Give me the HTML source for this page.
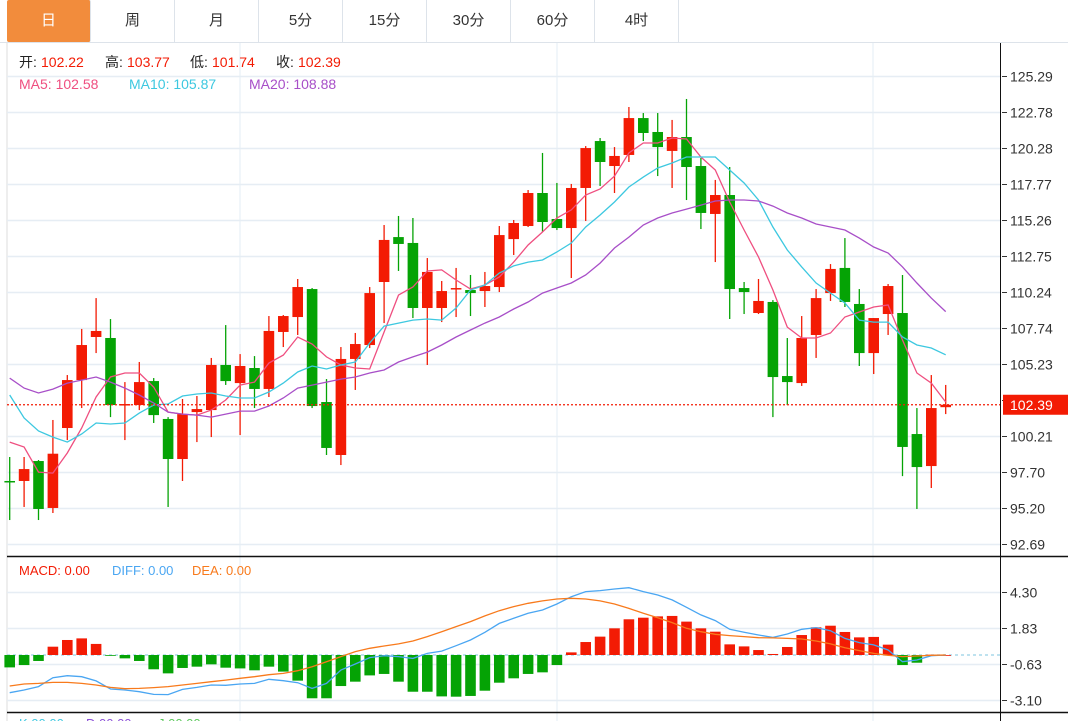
<!DOCTYPE html>
<html><head><meta charset="utf-8">
<style>
html,body{margin:0;padding:0;background:#fff;width:1068px;height:721px;overflow:hidden;font-family:"Liberation Sans","Noto Sans CJK SC",sans-serif}
#tabs{position:absolute;left:0;top:0;width:1068px;height:42px;border-bottom:1px solid #dde3ea}
.tab{position:absolute;top:0;height:42px;width:83px;border-right:1px solid #dde3ea;text-align:center;line-height:42px;font-size:15px;color:#333}
.tab.on{background:#f28c3c;color:#fff;border-radius:2px}
svg{position:absolute;left:0;top:0}
</style></head><body>
<div id="tabs">
<div class="tab on" style="left:7px">日</div>
<div class="tab" style="left:91px">周</div>
<div class="tab" style="left:175px">月</div>
<div class="tab" style="left:259px">5分</div>
<div class="tab" style="left:343px">15分</div>
<div class="tab" style="left:427px">30分</div>
<div class="tab" style="left:511px">60分</div>
<div class="tab" style="left:595px">4时</div>
</div>
<svg id="chart" width="1068" height="721"></svg>
<script>
const opens=[97.08,97.08,98.47,95.20,100.77,104.11,107.11,107.04,102.37,102.37,104.04,101.40,98.61,101.88,102.02,105.16,103.90,104.95,103.49,107.46,108.50,110.45,102.58,98.89,105.58,106.55,110.94,114.07,113.66,109.13,109.13,110.45,110.38,110.31,110.59,113.93,114.84,117.14,115.33,114.70,117.49,120.76,119.02,119.79,122.36,121.39,120.07,121.04,119.02,115.68,117.00,110.52,108.78,109.55,104.39,103.90,107.25,110.17,111.92,109.41,105.99,108.71,108.78,100.35,98.12,102.22];
const closes=[97.01,97.91,95.13,98.98,104.11,106.55,107.53,102.37,102.44,103.97,101.67,98.61,101.74,102.09,105.16,104.04,105.09,103.49,107.53,108.57,110.59,102.30,99.38,105.58,106.62,110.17,113.87,113.59,109.13,111.64,110.31,110.52,110.17,110.66,114.21,115.05,117.14,115.12,114.70,117.49,120.27,119.30,119.72,122.36,121.32,120.34,121.04,118.95,115.75,117.00,110.45,110.24,109.62,104.32,103.97,107.04,109.82,111.85,109.55,105.99,108.43,110.66,99.45,98.05,102.16,102.39];
const highs=[98.75,98.75,98.54,101.33,104.46,107.67,109.82,108.36,103.97,105.37,104.25,101.53,102.79,103.00,105.65,107.94,105.92,105.78,108.57,108.64,111.15,110.52,104.18,106.41,107.39,110.59,114.91,115.54,115.40,112.61,111.01,111.92,111.43,111.64,114.84,115.26,117.35,119.93,117.84,117.77,120.41,120.97,120.34,123.13,122.71,122.71,122.23,123.69,119.58,118.05,118.95,110.94,111.15,109.68,107.04,108.57,110.45,112.19,114.00,110.45,108.43,110.80,111.43,102.16,104.46,103.77];
const lows=[94.36,95.27,94.36,94.85,99.93,102.16,105.99,101.53,99.93,102.02,101.12,95.27,97.08,99.79,100.14,103.77,100.28,102.16,102.93,106.41,107.25,102.16,98.89,98.19,103.42,106.34,108.08,111.71,108.43,105.16,108.15,108.50,108.57,109.20,110.24,112.82,114.77,114.42,114.56,111.22,115.19,117.63,117.14,119.30,120.76,118.32,117.49,116.65,114.63,112.33,108.36,108.71,108.71,101.53,102.37,103.70,105.65,109.62,109.20,105.09,104.53,107.25,97.42,95.13,96.59,101.74];
const ma5=[99.79,99.45,97.70,97.63,99.03,100.77,102.93,104.32,104.60,104.60,103.62,101.88,101.74,101.67,102.02,102.72,103.76,103.97,105.30,105.85,107.11,106.62,105.72,105.16,104.95,104.88,107.46,110.03,110.59,111.71,111.78,111.08,110.45,110.73,111.29,112.33,113.52,114.42,115.40,115.96,117.00,117.42,118.32,119.93,120.62,120.62,120.97,120.90,119.65,118.74,116.51,114.56,112.68,110.38,107.80,107.04,107.04,107.39,108.50,108.85,109.20,109.34,106.90,104.60,103.90,102.58];
const ma10=[103.07,101.47,100.56,100.14,99.79,100.35,101.12,101.05,101.12,101.81,102.37,102.44,103.00,103.14,103.21,103.00,102.86,102.86,103.28,103.90,104.67,105.09,104.88,105.16,105.37,106.69,107.87,108.08,108.29,108.36,108.29,109.13,110.38,110.73,111.57,112.06,112.33,112.47,113.03,113.66,114.77,115.61,116.51,117.56,118.25,118.88,119.23,119.65,119.65,119.65,118.74,117.84,116.65,114.77,113.17,111.99,110.87,110.17,109.48,108.29,108.15,108.15,107.11,106.55,106.34,105.87];
const ma20=[104.25,103.55,103.21,103.48,103.90,104.11,104.32,103.97,103.55,103.07,102.51,101.88,101.74,101.67,101.53,101.74,101.95,101.95,102.30,102.86,103.55,103.76,103.97,104.18,104.32,104.60,104.81,105.37,105.72,106.06,106.55,107.11,107.60,108.08,108.50,109.06,109.55,110.17,110.52,110.87,111.43,112.26,113.31,114.07,114.91,115.40,115.75,116.02,116.30,116.58,116.65,116.65,116.58,116.23,115.75,115.40,114.98,114.77,114.56,114.00,113.38,112.96,111.99,110.87,109.82,108.88];
const macdHist=[-0.85,-0.69,-0.41,0.57,1.03,1.14,0.76,-0.05,-0.23,-0.41,-0.98,-1.26,-0.89,-0.80,-0.64,-0.87,-0.92,-1.05,-0.80,-1.14,-1.76,-2.97,-2.97,-2.13,-1.83,-1.40,-1.30,-1.83,-2.52,-2.52,-2.84,-2.86,-2.81,-2.45,-1.90,-1.60,-1.30,-1.19,-0.69,0.18,0.89,1.26,1.83,2.45,2.56,2.65,2.68,2.29,1.83,1.60,0.73,0.59,0.34,0.07,0.55,1.37,1.90,2.01,1.58,1.21,1.24,0.71,-0.69,-0.53,0.02,0.00];
const diffLine=[-2.59,-2.40,-2.17,-1.56,-1.42,-1.49,-1.78,-2.33,-2.40,-2.52,-2.70,-2.72,-2.36,-2.22,-2.06,-2.08,-1.99,-1.95,-1.67,-1.76,-1.90,-2.29,-1.95,-1.03,-0.62,-0.18,-0.05,-0.11,-0.23,0.11,0.27,0.64,1.03,1.56,2.17,2.52,2.86,3.09,3.50,4.00,4.35,4.42,4.53,4.62,4.35,4.12,3.78,3.27,2.75,2.36,1.76,1.56,1.37,1.21,1.44,1.76,1.88,1.67,1.14,0.85,0.69,0.34,-0.46,-0.34,-0.05,0.00];
const deaLine=[-2.13,-1.99,-1.95,-1.88,-1.88,-1.95,-2.06,-2.22,-2.31,-2.29,-2.24,-2.17,-2.06,-1.95,-1.83,-1.72,-1.60,-1.49,-1.35,-1.26,-1.08,-0.80,-0.46,-0.11,0.23,0.46,0.62,0.76,0.96,1.26,1.60,1.95,2.29,2.68,3.04,3.32,3.55,3.71,3.84,3.89,3.84,3.71,3.50,3.20,2.86,2.56,2.22,1.83,1.60,1.42,1.33,1.26,1.19,1.17,1.14,1.10,0.96,0.76,0.50,0.30,0.11,-0.02,-0.11,-0.07,-0.02,0.00];
const priceTicks=["125.29","122.78","120.28","117.77","115.26","112.75","110.24","107.74","105.23","102.72","100.21","97.70","95.20","92.69"];
const macdTicks=["4.30","1.83","-0.63","-3.10"];
const lastClose=102.39;

const NS="http://www.w3.org/2000/svg";
const svg=document.getElementById('chart');
const RED="#f31b04",GREEN="#05a305";
function yP(p){return 76+(125.29-p)*14.356;}
function yM(v){return 655-v*14.575;}
function xI(i){return 9.7+i*14.4;}
function mk(tag,attrs){const e=document.createElementNS(NS,tag);for(const k in attrs)e.setAttribute(k,attrs[k]);svg.appendChild(e);return e;}

let e;
e=mk('rect',{x:7,y:43,width:993,height:678,fill:'#fff'});

[7,240,557,873].forEach(x=>{e=mk('line',{x1:x,y1:43,x2:x,y2:721,stroke:x===7?'#dcdcdc':'#e3ecf5','stroke-width':1});
});
priceTicks.forEach(t=>{const y=Math.round(yP(parseFloat(t)))+0.5;
if(t!=="102.72"){e=mk('line',{x1:7,y1:y,x2:1000,y2:y,stroke:'#e6edf4','stroke-width':1.5});
}
e=mk('line',{x1:1002,y1:y,x2:1007,y2:y,stroke:'#333','stroke-width':1});

if(t!=="102.72"){e=mk('text',{x:1010,y:y+5,'font-size':14,fill:'#333'});e.textContent=t;
}});
macdTicks.forEach(t=>{const y=Math.round(yM(parseFloat(t)))+0.5;
e=mk('line',{x1:7,y1:y,x2:1000,y2:y,stroke:'#e6edf4','stroke-width':1.5});

e=mk('line',{x1:1002,y1:y,x2:1007,y2:y,stroke:'#333','stroke-width':1});

e=mk('text',{x:1010,y:y+5,'font-size':14,fill:'#333'});e.textContent=t;
});
e=mk('line',{x1:7,y1:556.5,x2:1068,y2:556.5,stroke:'#111','stroke-width':1.5});

e=mk('line',{x1:7,y1:712.5,x2:1068,y2:712.5,stroke:'#111','stroke-width':1.5});

e=mk('line',{x1:1000.5,y1:43,x2:1000.5,y2:721,stroke:'#111','stroke-width':1});


for(let i=0;i<opens.length;i++){
 const up=closes[i]>=opens[i];const c=up?RED:GREEN;const x=xI(i);
 e=mk('line',{x1:x,y1:yP(highs[i]),x2:x,y2:yP(lows[i]),stroke:c,'stroke-width':1.3});
 
 const t=yP(Math.max(opens[i],closes[i])),b=yP(Math.min(opens[i],closes[i]));
 e=mk('rect',{x:x-5.3,y:t,width:10.6,height:Math.max(1.5,b-t),fill:c});
 
}
function poly(arr,fy,color,name,w){let d='';arr.forEach((v,i)=>{d+=(i?'L':'M')+xI(i).toFixed(1)+' '+fy(v).toFixed(1);});
 const p=mk('path',{d:d,fill:'none',stroke:color,'stroke-width':w||1.3});
 }
poly(ma5,yP,'#ef4f80','ma5-line');
poly(ma10,yP,'#3dc8e0','ma10-line');
poly(ma20,yP,'#a84fc8','ma20-line');
const ly=yP(lastClose);
e=mk('line',{x1:7,y1:ly,x2:1000,y2:ly,stroke:RED,'stroke-width':1.3,'stroke-dasharray':'2,2'});

e=mk('rect',{x:1003,y:ly-10,width:65,height:20,fill:RED});

e=mk('text',{x:1010,y:ly+5,'font-size':14,fill:'#fff'});e.textContent=lastClose.toFixed(2);


e=mk('line',{x1:7,y1:yM(0),x2:1000,y2:yM(0),stroke:'#a8d8ea','stroke-width':1.5,'stroke-dasharray':'3,3'});

macdHist.forEach((v,i)=>{const x=xI(i);const y0=yM(0),y1=yM(v);
 e=mk('rect',{x:x-5.3,y:Math.min(y0,y1),width:10.6,height:Math.max(0.8,Math.abs(y1-y0)),fill:v>=0?RED:GREEN});
 });
poly(diffLine,yM,'#4aa6f2','diff-line',1.3);
poly(deaLine,yM,'#f87a1c','dea-line',1.3);

function txt(x,y,s,c,size,name){const t=mk('text',{x:x,y:y,'font-size':size||14,fill:c});t.textContent=s;
 return t;}
txt(19,67,'开:','#222',14,'open-label');txt(41,67,'102.22',RED,14,'open-value');
txt(105,67,'高:','#222',14,'high-label');txt(127,67,'103.77',RED,14,'high-value');
txt(190,67,'低:','#222',14,'low-label');txt(212,67,'101.74',RED,14,'low-value');
txt(276,67,'收:','#222',14,'close-label');txt(298,67,'102.39',RED,14,'close-value');
txt(19,89,'MA5: 102.58','#ef4f80',14,'ma5-legend');
txt(129,89,'MA10: 105.87','#3dc8e0',14,'ma10-legend');
txt(249,89,'MA20: 108.88','#a84fc8',14,'ma20-legend');
txt(19,575,'MACD: 0.00',RED,13,'macd-legend');
txt(112,575,'DIFF: 0.00','#4aa6f2',13,'diff-legend');
txt(192,575,'DEA: 0.00','#f87a1c',13,'dea-legend');
txt(19,728,'K:00.00','#3dc8e0',13,'k-legend');
txt(86,728,'D:00.00','#8b4fd8',13,'d-legend');
txt(158,728,'J:00.00','#5bc85b',13,'j-legend');
</script>
</body></html>
